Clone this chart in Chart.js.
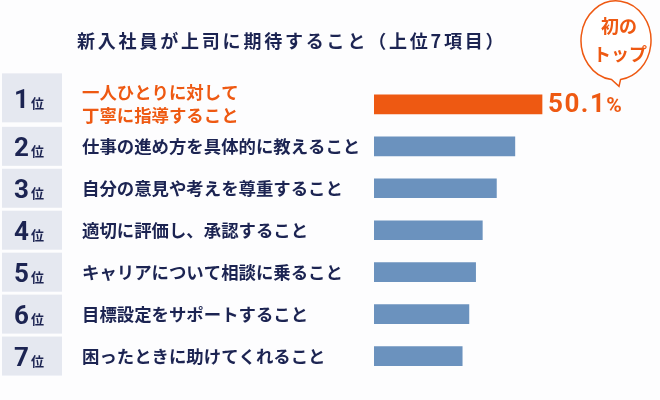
<!DOCTYPE html>
<html lang="ja">
<head>
<meta charset="utf-8">
<title>新入社員が上司に期待すること</title>
<script src="https://cdn.jsdelivr.net/npm/chart.js@4.4.1/dist/chart.umd.min.js"></script>
<style>
  html, body { margin: 0; padding: 0; background: #fdfdfe; }
  #wrap { width: 660px; height: 400px; position: relative; }
</style>
</head>
<body>
<div id="wrap"><canvas id="theGraph"></canvas></div>
<script>
// items on the y-axis (rank order)
var items = [
  ["一人ひとりに対して", "丁寧に指導すること"],
  "仕事の進め方を具体的に教えること",
  "自分の意見や考えを尊重すること",
  "適切に評価し、承認すること",
  "キャリアについて相談に乗ること",
  "目標設定をサポートすること",
  "困ったときに助けてくれること"
];
var ranks = ["1", "2", "3", "4", "5", "6", "7"];
// percent values (only the first one is printed)
var rates = [50.1, 42.0, 36.5, 32.3, 30.3, 28.3, 26.3];

var title = "新入社員が上司に期待すること（上位7項目）";
var note = ["初の", "トップ"];

var navy = "#1c2452";
var orange = "#ee5912";
var blue = "#6b92be";
var jp = "'Noto Sans CJK JP', 'Noto Sans', sans-serif";
var num = "'Roboto', 'Liberation Sans', sans-serif";

var decor = {
  id: "decor",
  beforeDatasetsDraw: function (chart) {
    var ctx = chart.ctx;
    var y = chart.scales.y;
    ctx.save();
    // title
    ctx.font = "bold 18px " + jp;
    ctx.letterSpacing = "2.8px";
    ctx.fillStyle = navy;
    ctx.textBaseline = "middle";
    ctx.fillText(title, 77, 41);
    ctx.letterSpacing = "0px";

    // rank boxes
    var half = 19.5;
    for (var i = 0; i < ranks.length; i++) {
      var cy = y.getPixelForValue(i);
      var top = cy - half, bot = cy + half;
      if (i === 0) {
        top = cy - 31;
        bot = y.getPixelForValue(1) - half - 4.5;
      }
      ctx.fillStyle = "#e5e8f0";
      ctx.fillRect(2, top, 60, bot - top);
      var mid = (top + bot) / 2;
      ctx.fillStyle = navy;
      ctx.textBaseline = "alphabetic";
      ctx.textAlign = "right";
      ctx.font = "bold 26px " + num;
      ctx.fillText(ranks[i], 29, mid + 10);
      ctx.textAlign = "left";
      ctx.font = "bold 13px " + jp;
      ctx.fillText("位", 31, mid + 10);
    }
    ctx.restore();
  },
  afterDatasetsDraw: function (chart) {
    var ctx = chart.ctx;
    var x = chart.scales.x;
    var y = chart.scales.y;
    ctx.save();
    // value label on the top bar
    var x0 = x.getPixelForValue(rates[0]) + 6;
    var yb = y.getPixelForValue(0) + 8;
    var txt = rates[0].toFixed(1);
    ctx.fillStyle = orange;
    ctx.textAlign = "left";
    ctx.textBaseline = "alphabetic";
    ctx.font = "bold 26px " + num;
    ctx.letterSpacing = "1.5px";
    ctx.fillText(txt, x0, yb);
    var w = ctx.measureText(txt).width;
    ctx.letterSpacing = "0px";
    ctx.font = "bold 21px " + num;
    ctx.fillText("%", x0 + w, yb);

    // speech bubble
    var cx = 616, cyb = chart.chartArea.top - 43;
    ctx.strokeStyle = orange;
    ctx.lineWidth = 1.5;
    ctx.fillStyle = "#ffffff";
    ctx.beginPath();
    ctx.ellipse(cx, cyb, 35, 39.5, 0, Math.PI * 0.5 + 0.13, Math.PI * 0.5 - 0.13 + Math.PI * 2);
    ctx.lineTo(cx + 3, cyb + 46);
    ctx.closePath();
    ctx.fill();
    ctx.stroke();
    ctx.fillStyle = orange;
    ctx.textAlign = "center";
    ctx.textBaseline = "middle";
    ctx.font = "bold 18px " + jp;
    ctx.fillText(note[0], cx + 3, cyb - 14);
    ctx.fillText(note[1], cx + 4, cyb + 14);
    ctx.restore();
  }
};

var ctx = document.getElementById("theGraph");

var graph = new Chart(ctx, {
  type: "bar",
  data: {
    labels: items,
    datasets: [
      {
        data: rates,
        backgroundColor: rates.map(function (v, i) { return i === 0 ? orange : blue; }),
        borderWidth: 0,
        barThickness: 19
      }
    ]
  },
  options: {
    indexAxis: "y",
    responsive: true,
    maintainAspectRatio: false,
    animation: false,
    layout: { padding: { top: 83.4, bottom: 7.3, left: 82, right: 17.7 } },
    plugins: {
      legend: { display: false },
      tooltip: { enabled: false }
    },
    scales: {
      x: { type: "linear", min: 0, max: 80, display: false },
      y: {
        type: "category",
        grid: { display: false, drawTicks: false },
        border: { display: false },
        ticks: {
          crossAlign: "far",
          autoSkip: false,
          padding: 0,
          color: function (c) { return c.index === 0 ? orange : navy; },
          font: { family: jp, size: 17.4, weight: "bold", lineHeight: 1.32 }
        },
        afterFit: function (s) { s.width = 292; }
      }
    }
  },
  plugins: [decor]
});
</script>
</body>
</html>
